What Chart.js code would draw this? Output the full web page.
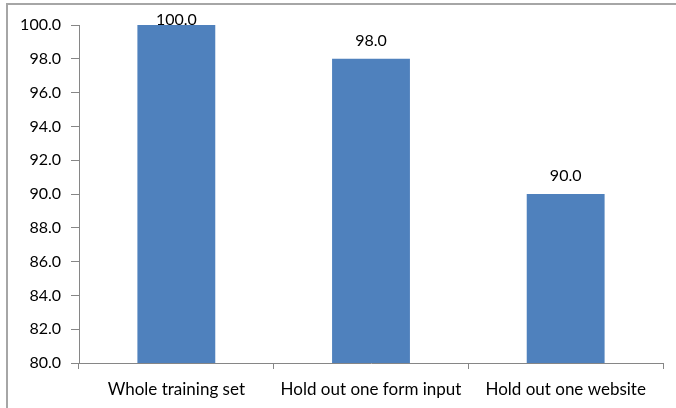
<!DOCTYPE html>
<html>
<head>
<meta charset="utf-8">
<script src="https://cdn.jsdelivr.net/npm/chart.js@4/dist/chart.umd.min.js"></script>
<style>
  html, body { margin: 0; padding: 0; background: #ffffff; }
  #frame { position: absolute; left: 6px; top: 3px; width: 670px; height: 405px;
           border-top: 2px solid #a6a6a6; border-left: 2px solid #a6a6a6; }
  #wrap { position: absolute; left: 0; top: 0; width: 676px; height: 408px; }
</style>
</head>
<body>
<div id="frame"></div>
<div id="wrap"><canvas id="c" width="676" height="408"></canvas></div>
<script>
const categories = ['Whole training set', 'Hold out one form input', 'Hold out one website'];
const accuracy = [100.0, 98.0, 90.0];
const yMin = 80, yMax = 100, yStep = 2;

const FAMILY = 'Lato, "Open Sans", sans-serif';
const NUM_FONT = { family: FAMILY, size: 16 };
const CAT_FONT = { family: FAMILY, size: 17 };

// value labels drawn above each bar, kept inside the canvas near the top
const valueLabels = {
  id: 'valueLabels',
  afterDatasetsDraw(chart) {
    const ctx = chart.ctx;
    const meta = chart.getDatasetMeta(0);
    ctx.save();
    ctx.font = `${NUM_FONT.size}px ${NUM_FONT.family}`;
    ctx.fillStyle = '#000000';
    ctx.textAlign = 'center';
    ctx.textBaseline = 'middle';
    meta.data.forEach((bar, i) => {
      const y = Math.max(bar.y - 18, chart.chartArea.top - 5);
      ctx.fillText(accuracy[i].toFixed(1), bar.x, y);
    });
    ctx.restore();
  }
};

new Chart(document.getElementById('c'), {
  type: 'bar',
  data: {
    labels: categories,
    datasets: [{
      data: accuracy,
      backgroundColor: '#4f81bd',
      borderWidth: 0,
      barPercentage: 0.4,
      categoryPercentage: 1.0
    }]
  },
  options: {
    responsive: false,
    animation: false,
    layout: { padding: { left: 0, top: 25, right: 13, bottom: 0 } },
    plugins: { legend: { display: false }, tooltip: { enabled: false } },
    scales: {
      x: {
        grid: { display: true, drawOnChartArea: false, drawTicks: true, tickLength: 6,
                color: '#868686', offset: true },
        border: { display: true, color: '#868686', width: 1 },
        ticks: { color: '#000000', font: CAT_FONT, padding: 10, maxRotation: 0 },
        afterFit(scale) { scale.height = 45; }
      },
      y: {
        min: yMin, max: yMax,
        grid: { display: true, drawOnChartArea: false, drawTicks: true, tickLength: 8,
                color: '#868686' },
        border: { display: true, color: '#868686', width: 1 },
        ticks: { stepSize: yStep, color: '#000000', font: NUM_FONT, padding: 10,
                 callback: v => Number(v).toFixed(1) },
        afterFit(scale) { scale.width = 79; }
      }
    }
  },
  plugins: [valueLabels]
});
</script>
</body>
</html>
